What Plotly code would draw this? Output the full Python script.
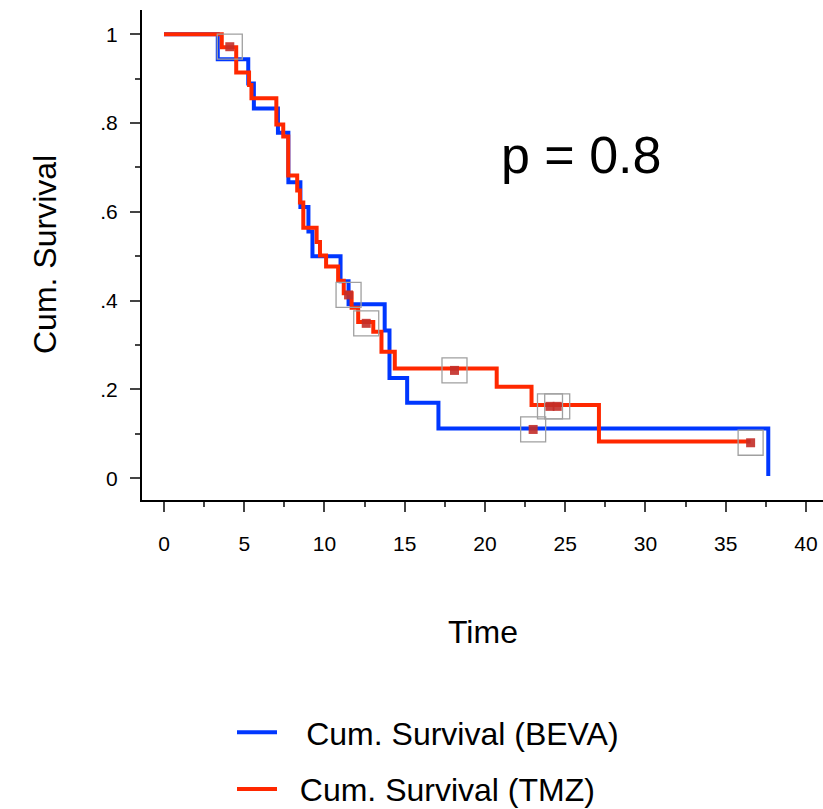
import plotly.graph_objects as go

# ---- data ----
beva_time = [0, 3.35, 5.25, 5.6, 7.1, 7.75, 8.5, 9.0, 9.25, 11.0, 11.5, 13.75, 14.05, 15.15, 17.1, 37.65, 37.65]
beva_surv = [1.0, 0.944, 0.889, 0.833, 0.778, 0.667, 0.611, 0.556, 0.5, 0.444, 0.392, 0.333, 0.226, 0.170, 0.112, 0.112, 0.005]

tmz_time = [0, 3.6, 4.5, 5.3, 5.45, 7.0, 7.43, 7.74, 8.3, 8.47, 8.68, 9.51, 9.72, 10.1, 10.85,
            11.2, 11.69, 12.1, 13.04, 13.55, 14.38, 20.73, 22.9, 27.1, 36.55]
tmz_surv = [1.0, 0.971, 0.914, 0.886, 0.856, 0.797, 0.770, 0.682, 0.648, 0.621, 0.564, 0.532, 0.502,
            0.477, 0.445, 0.417, 0.384, 0.352, 0.330, 0.285, 0.247, 0.206, 0.165, 0.083, 0.083]

cens_time = [4.1, 11.5, 12.6, 18.1, 23.0, 24.05, 24.5, 36.55]
cens_surv = [0.972, 0.413, 0.349, 0.243, 0.110, 0.162, 0.162, 0.080]

y_tickvals = [0, 0.2, 0.4, 0.6, 0.8, 1.0]
y_ticktext = ["0", ".2", ".4", ".6", ".8", "1"]
x_tickvals = [0, 5, 10, 15, 20, 25, 30, 35, 40]

BLUE = "rgb(0,55,255)"
RED = "rgb(255,40,0)"
FONT = "Liberation Sans, Arial, sans-serif"
NB = "\u00a0"

fig = go.Figure()
fig.add_trace(go.Scatter(x=beva_time, y=beva_surv, mode="lines", line=dict(color=BLUE, width=4, shape="hv"),
                         name=NB * 2 + "\u2009Cum. Survival (BEVA)", legendgroup="a"))
fig.add_trace(go.Scatter(x=tmz_time, y=tmz_surv, mode="lines", line=dict(color=RED, width=4, shape="hv"),
                         name=NB * 2 + "Cum. Survival (TMZ)", legendgroup="b"))
fig.add_trace(go.Scatter(x=cens_time, y=cens_surv, mode="markers", showlegend=False,
                         marker=dict(symbol="square-open", size=25, color="rgb(160,160,160)",
                                     line=dict(width=1.3, color="rgb(160,160,160)"))))
fig.add_trace(go.Scatter(x=cens_time, y=cens_surv, mode="markers", showlegend=False,
                         marker=dict(symbol="square", size=9, color="rgb(195,45,40)", opacity=0.9)))

fig.update_layout(
    width=823, height=809,
    margin=dict(l=142, r=0, t=10, b=309, autoexpand=False),
    plot_bgcolor="white", paper_bgcolor="white",
    font=dict(family=FONT, color="black"),
    xaxis=dict(range=[-1.37, 41.06], tickvals=x_tickvals, ticks="outside", ticklen=10, tickwidth=2,
               showline=True, linecolor="black", linewidth=2, showgrid=False, zeroline=False,
               tickfont=dict(size=21), ticklabelstandoff=14,
               minor=dict(dtick=2.5, tick0=0, ticks="outside", ticklen=5, tickwidth=2, showgrid=False)),
    yaxis=dict(range=[-0.0489, 1.0547], tickvals=y_tickvals, ticktext=y_ticktext, ticks="outside",
               ticklen=10, tickwidth=2, showline=True, linecolor="black", linewidth=2,
               showgrid=False, zeroline=False, tickfont=dict(size=21), ticklabelstandoff=8,
               minor=dict(dtick=0.1, tick0=0, ticks="outside", ticklen=5, tickwidth=2, showgrid=False)),
    legend=dict(x=(232 - 142) / 681, y=(500 - 705) / 490, xanchor="left", yanchor="top",
                font=dict(size=32), traceorder="grouped", tracegroupgap=12, itemwidth=40,
                bgcolor="rgba(0,0,0,0)"),
    annotations=[
        dict(text="p = 0.8", x=26.0, y=0.728, xref="x", yref="y", showarrow=False,
             font=dict(size=52), xanchor="center", yanchor="middle"),
        dict(text="Time", x=0.5, y=(500 - 632) / 490, xref="paper", yref="paper", showarrow=False,
             font=dict(size=32), xanchor="center", yanchor="middle"),
        dict(text="Cum. Survival", x=(45 - 142) / 681, y=(500 - 255) / 490, xref="paper", yref="paper",
             showarrow=False, textangle=-90, font=dict(size=32), xanchor="center", yanchor="middle"),
    ],
)

fig.write_html("out.html")
